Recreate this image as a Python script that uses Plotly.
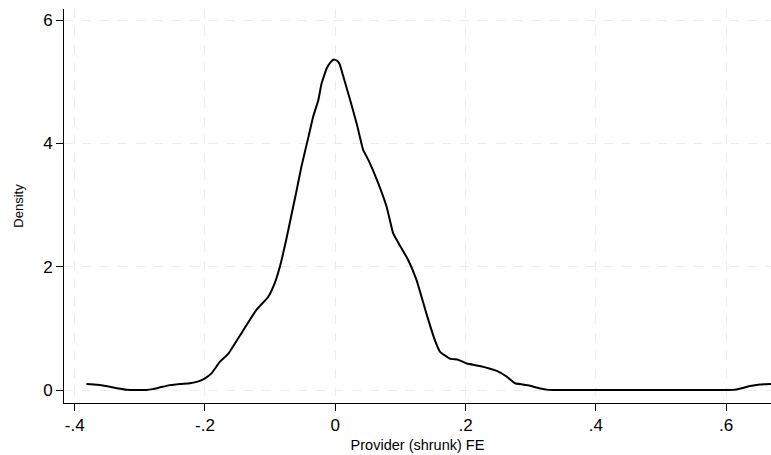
import plotly.graph_objects as go

# Kernel density estimate of provider (shrunk) fixed effects
fe_x = [-0.382, -0.365, -0.35, -0.335, -0.32, -0.305, -0.29, -0.28, -0.27, -0.254, -0.238, -0.223,
        -0.21, -0.2, -0.19, -0.177, -0.164, -0.146, -0.121, -0.103, -0.093, -0.085, -0.076,
        -0.067, -0.06, -0.052, -0.041, -0.034, -0.026, -0.021, -0.013, -0.006, -0.002, 0.003,
        0.007, 0.012, 0.023, 0.033, 0.043, 0.051, 0.064, 0.079, 0.089, 0.099, 0.112, 0.125,
        0.140, 0.153, 0.161, 0.176, 0.189, 0.202, 0.222, 0.248, 0.263, 0.276, 0.288, 0.299,
        0.313, 0.327, 0.34, 0.40, 0.50, 0.60, 0.611, 0.624, 0.637, 0.652, 0.669]
density = [0.10, 0.085, 0.06, 0.03, 0.005, 0.0, 0.0, 0.015, 0.04, 0.08, 0.10, 0.11,
           0.14, 0.19, 0.27, 0.46, 0.59, 0.89, 1.30, 1.51, 1.73, 2.0, 2.40,
           2.85, 3.2, 3.62, 4.11, 4.43, 4.70, 4.97, 5.22, 5.33, 5.36, 5.34,
           5.28, 5.10, 4.70, 4.32, 3.89, 3.73, 3.41, 2.97, 2.54, 2.35, 2.11, 1.78,
           1.24, 0.81, 0.62, 0.51, 0.49, 0.43, 0.39, 0.31, 0.22, 0.11, 0.09, 0.07,
           0.03, 0.003, 0.0, 0.0, 0.0, 0.0, 0.003, 0.03, 0.065, 0.09, 0.10]

x_ticks = [-0.4, -0.2, 0, 0.2, 0.4, 0.6]
x_tick_labels = ["-.4", "-.2", "0", ".2", ".4", ".6"]
y_ticks = [0, 2, 4, 6]
y_tick_labels = ["0", "2", "4", "6"]

FONT = "Liberation Sans, Arial, sans-serif"
GRID = "rgb(236,236,236)"

fig = go.Figure()
fig.add_trace(go.Scatter(
    x=fe_x, y=density, mode="lines",
    line=dict(color="black", width=2, shape="spline", smoothing=0.35),
    hoverinfo="x+y", showlegend=False,
))

fig.update_layout(
    width=771, height=455,
    margin=dict(l=64, r=0, t=9, b=52),
    paper_bgcolor="white", plot_bgcolor="white",
    font=dict(family=FONT, color="black"),
    xaxis=dict(
        range=[-0.4164, 0.669], tickmode="array", tickvals=x_ticks, ticktext=x_tick_labels,
        showline=True, linecolor="black", linewidth=1, mirror=False,
        ticks="outside", ticklen=7, tickcolor="black", tickwidth=1,
        showgrid=True, gridcolor=GRID, gridwidth=1, griddash="dash",
        zeroline=False, tickfont=dict(size=17, family=FONT),
        title=dict(text="Provider (shrunk) FE", font=dict(size=14.5, family=FONT), standoff=5),
    ),
    yaxis=dict(
        range=[-0.21, 6.18], tickmode="array", tickvals=y_ticks, ticktext=y_tick_labels,
        showline=True, linecolor="black", linewidth=1, mirror=False,
        ticks="outside", ticklen=7, tickcolor="black", tickwidth=1,
        showgrid=True, gridcolor=GRID, gridwidth=1, griddash="dash",
        zeroline=False, tickfont=dict(size=17, family=FONT),
        title=dict(text="Density", font=dict(size=13, family=FONT), standoff=16),
    ),
)

fig.write_html("out.html")
